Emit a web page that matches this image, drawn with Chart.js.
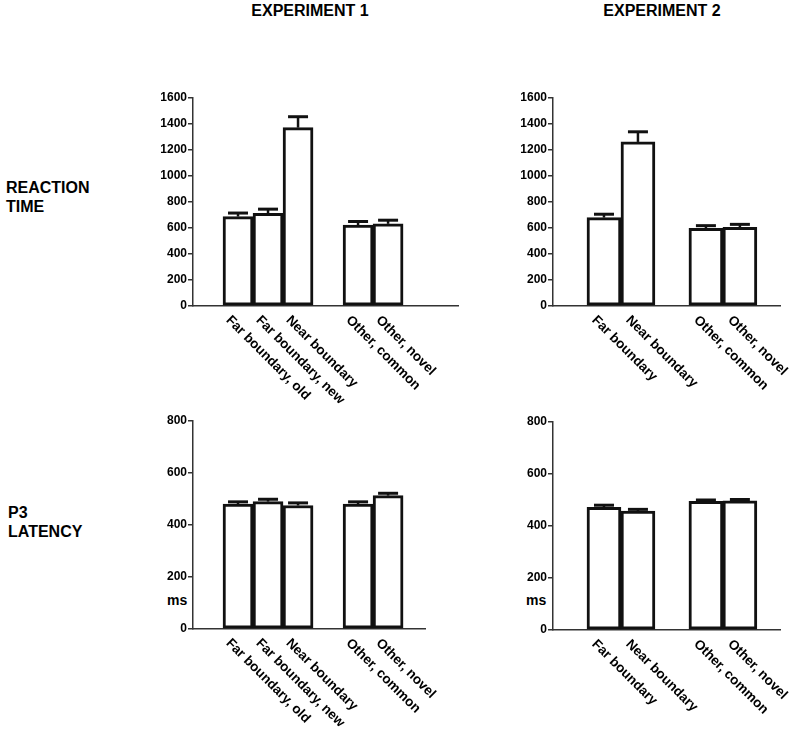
<!DOCTYPE html>
<html>
<head>
<meta charset="utf-8">
<script src="https://cdn.jsdelivr.net/npm/chart.js@4"></script>
<style>
  html, body { margin: 0; padding: 0; background: #fff; }
  body { width: 800px; height: 732px; position: relative; overflow: hidden; font-family: Arial, "Liberation Sans", sans-serif; }
  canvas { position: absolute; }
  .lbl { position: absolute; font-weight: bold; color: #000; white-space: nowrap; }
  .head { font-size: 16px; line-height: 16px; width: 200px; text-align: center; }
  .row { font-size: 16px; line-height: 19px; }
  .unit { font-size: 14px; line-height: 14px; }
</style>
</head>
<body>
<div class="lbl head" style="left:210px; top:3px;">EXPERIMENT 1</div>
<div class="lbl head" style="left:562px; top:3px;">EXPERIMENT 2</div>
<div class="lbl row" style="left:6px; top:178px;">REACTION<br>TIME</div>
<div class="lbl row" style="left:8px; top:503px;">P3<br>LATENCY</div>
<div class="lbl unit" style="left:167px; top:593px;">ms</div>
<div class="lbl unit" style="left:526px; top:593px;">ms</div>

<canvas id="rt1"></canvas>
<canvas id="rt2"></canvas>
<canvas id="p31"></canvas>
<canvas id="p32"></canvas>

<script>
// categories (null = empty gap slot between groups)
const expOneCategories = ['Far boundary, old', 'Far boundary, new', 'Near boundary', null, 'Other, common', 'Other, novel'];
const expTwoCategories = ['Far boundary', 'Near boundary', null, 'Other, common', 'Other, novel'];

// reaction time (ms) and upper error
const rtExpOne = [688, 712, 1372, null, 623, 632];
const rtExpOneErr = [27, 33, 84, null, 27, 28];
const rtExpTwo = [680, 1262, null, 598, 606];
const rtExpTwoErr = [26, 78, null, 20, 22];

// P3 latency (ms) and upper error
const p3ExpOne = [480, 490, 475, null, 480, 513];
const p3ExpOneErr = [9, 9, 10, null, 9, 9];
const p3ExpTwo = [472, 457, null, 495, 497];
const p3ExpTwoErr = [8, 7, null, 5, 5];

// tick labels
const rtTicks = [0, 200, 400, 600, 800, 1000, 1200, 1400, 1600];
const p3Ticks = [0, 200, 400, 600, 800];

const FONT = 'Arial, "Liberation Sans", sans-serif';
const INK = '#111';

const errorBars = {
  id: 'errorBars',
  afterDatasetsDraw(chart) {
    const ctx = chart.ctx;
    const y = chart.scales.y;
    const meta = chart.getDatasetMeta(0);
    const pts = chart.data.datasets[0].data;
    ctx.save();
    ctx.strokeStyle = INK;
    meta.data.forEach((bar, i) => {
      const p = pts[i];
      const capY = y.getPixelForValue(p.y + p.err);
      ctx.lineWidth = 2.5;
      ctx.beginPath();
      ctx.moveTo(bar.x, bar.y);
      ctx.lineTo(bar.x, capY);
      ctx.stroke();
      ctx.lineWidth = 3;
      ctx.beginPath();
      ctx.moveTo(bar.x - 10, capY);
      ctx.lineTo(bar.x + 10, capY);
      ctx.stroke();
    });
    ctx.restore();
  }
};

// x labels slant down to the right, starting under each bar
const slantLabels = {
  id: 'slantLabels',
  afterDraw(chart) {
    const ctx = chart.ctx;
    const x = chart.scales.x;
    const cats = chart.options.plugins.slantLabels.labels;
    ctx.save();
    ctx.fillStyle = '#000';
    ctx.font = 'bold 13.5px ' + FONT;
    ctx.textAlign = 'left';
    ctx.textBaseline = 'middle';
    cats.forEach((c, i) => {
      if (c === null) return;
      ctx.save();
      ctx.translate(x.getPixelForValue(i) - 10, chart.chartArea.bottom + 12);
      ctx.rotate(Math.PI / 4);
      ctx.fillText(c, 0, 0);
      ctx.restore();
    });
    ctx.restore();
  }
};

function makeChart(id, area, xMax, cats, values, errs, ticks) {
  const pad = { left: 13, top: 12, right: 12, bottom: 105 };
  const yw = 50;
  const el = document.getElementById(id);
  el.width = area.right - area.left + pad.left + yw + pad.right;
  el.height = area.bottom - area.top + pad.top + pad.bottom;
  el.style.left = (area.left - pad.left - yw) + 'px';
  el.style.top = (area.top - pad.top) + 'px';

  const points = [];
  values.forEach((v, i) => {
    if (v !== null) points.push({ x: i, y: v, err: errs[i] });
  });

  return new Chart(el, {
    type: 'bar',
    data: {
      datasets: [{
        data: points,
        backgroundColor: '#fff',
        borderColor: INK,
        borderWidth: 3,
        borderSkipped: false,
        barPercentage: 1,
        categoryPercentage: 1,
      }],
    },
    options: {
      responsive: false,
      animation: false,
      layout: { padding: pad },
      plugins: {
        legend: { display: false },
        tooltip: { enabled: false },
        slantLabels: { labels: cats },
      },
      scales: {
        x: {
          type: 'linear',
          offset: false,
          min: -1.5,
          max: xMax,
          grid: { display: false, drawTicks: false },
          ticks: { display: false },
          border: { color: '#333', width: 1.5 },
          afterFit: (s) => { s.height = 0; },
        },
        y: {
          min: ticks[0],
          max: ticks[ticks.length - 1],
          ticks: {
            stepSize: ticks[1] - ticks[0],
            color: '#000',
            padding: 1,
            font: { family: FONT, size: 12, weight: 'bold' },
            callback: (v) => String(v),
          },
          grid: { drawOnChartArea: false, drawTicks: true, tickLength: 5, color: '#333', lineWidth: 1.5 },
          border: { color: '#333', width: 1.5 },
          afterFit: (s) => { s.width = yw; },
        },
      },
    },
    plugins: [errorBars, slantLabels],
  });
}

makeChart('rt1', { left: 193, top: 98, right: 458, bottom: 306 }, 7.33, expOneCategories, rtExpOne, rtExpOneErr, rtTicks);
makeChart('rt2', { left: 553, top: 98, right: 780, bottom: 306 }, 5.18, expTwoCategories, rtExpTwo, rtExpTwoErr, rtTicks);
makeChart('p31', { left: 193, top: 421, right: 425, bottom: 629 }, 6.23, expOneCategories, p3ExpOne, p3ExpOneErr, p3Ticks);
makeChart('p32', { left: 553, top: 422, right: 780, bottom: 630 }, 5.18, expTwoCategories, p3ExpTwo, p3ExpTwoErr, p3Ticks);
</script>
</body>
</html>
